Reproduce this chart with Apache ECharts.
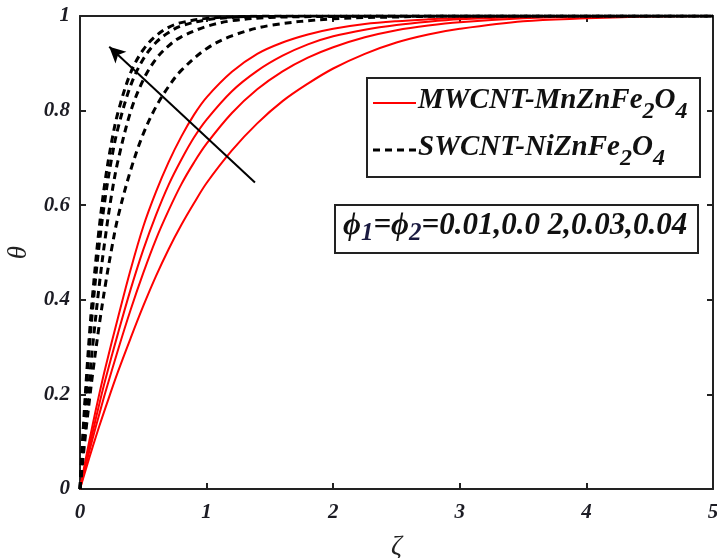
<!DOCTYPE html>
<html>
<head>
<meta charset="utf-8">
<script src="https://cdn.jsdelivr.net/npm/echarts@6/dist/echarts.min.js"></script>
<style>html,body{margin:0;padding:0;background:#fff;}#c{width:717px;height:558px;}</style>
</head>
<body>
<div id="c"></div>
<script>
// ---- data ----
const zetaRed = [0,0.05,0.1,0.15,0.2,0.3,0.4,0.5,0.6,0.7,0.8,0.9,1.0,1.2,1.4,1.6,1.8,2.0,2.25,2.5,2.75,3.0,3.5,4.0,4.5,5.0];
const red1 = [0,0.070,0.136,0.198,0.256,0.362,0.464,0.555,0.628,0.691,0.745,0.791,0.828,0.882,0.920,0.944,0.961,0.973,0.983,0.989,0.993,0.996,0.999,1,1,1];
const red2 = [0,0.062,0.120,0.177,0.231,0.329,0.422,0.506,0.579,0.643,0.696,0.743,0.781,0.841,0.884,0.916,0.940,0.957,0.971,0.981,0.988,0.993,0.998,1,1,1];
const red3 = [0,0.055,0.107,0.156,0.204,0.294,0.379,0.457,0.528,0.589,0.644,0.690,0.730,0.795,0.845,0.883,0.912,0.934,0.955,0.970,0.980,0.987,0.995,0.999,1,1];
const red4 = [0,0.045,0.089,0.131,0.171,0.248,0.319,0.387,0.450,0.507,0.558,0.604,0.647,0.716,0.773,0.820,0.857,0.889,0.920,0.944,0.961,0.973,0.989,0.995,0.999,1];

const zetaDash = [0,0.025,0.05,0.075,0.1,0.15,0.2,0.25,0.3,0.4,0.5,0.6,0.7,0.8,1.0,1.2,1.5,2.0,2.5,3.0,4.0,5.0];
const dash1 = [0,0.124,0.233,0.328,0.411,0.548,0.654,0.734,0.796,0.880,0.929,0.958,0.976,0.986,0.995,0.998,1,1,1,1,1,1];
const dash2 = [0,0.113,0.213,0.302,0.381,0.513,0.617,0.699,0.763,0.853,0.909,0.944,0.965,0.979,0.992,0.997,0.999,1,1,1,1,1];
const dash3 = [0,0.084,0.161,0.231,0.302,0.426,0.532,0.623,0.694,0.798,0.865,0.909,0.937,0.956,0.978,0.990,0.997,0.999,1,1,1,1];
const dash4 = [0,0.068,0.131,0.189,0.244,0.343,0.431,0.508,0.575,0.674,0.751,0.808,0.851,0.885,0.931,0.958,0.980,0.994,0.998,1,1,1];

const arrowTail = [1.382, 0.648];
const arrowHead = [0.231, 0.935];

const xTicks = [0,1,2,3,4,5];
const yTicks = [0,0.2,0.4,0.6,0.8,1];

const legendLabels = ['MWCNT-MnZnFe{s|2}O{s|4}', 'SWCNT-NiZnFe{s|2}O{s|4}'];
const paramLabel = '{p|ϕ}{s|1}{p|=ϕ}{s|2}{p|=0.01,0.0 2,0.03,0.04}';

// ---- build ----
const zip = (xs, ys) => xs.map((x, i) => [x, ys[i]]);
const FONT = "'Liberation Serif', 'DejaVu Serif', serif";
const labelStyle = {fontFamily: FONT, fontStyle: 'italic', fontWeight: 'bold', fontSize: 21, color: '#1c1c24'};

const chart = echarts.init(document.getElementById('c'), null, {renderer: 'canvas'});

function lineSeries(name, xs, ys, dashed) {
  return {
    type: 'line', name: name, data: zip(xs, ys), showSymbol: false, symbol: 'none',
    smooth: 0.35, clip: true,
    lineStyle: dashed ? {color: '#000', width: 3, type: [7, 5]} : {color: '#ff0000', width: 2},
    z: dashed ? 3 : 2
  };
}

const series = [
  lineSeries('r1', zetaRed, red1, false),
  lineSeries('r2', zetaRed, red2, false),
  lineSeries('r3', zetaRed, red3, false),
  lineSeries('r4', zetaRed, red4, false),
  lineSeries('d1', zetaDash, dash1, true),
  lineSeries('d2', zetaDash, dash2, true),
  lineSeries('d3', zetaDash, dash3, true),
  lineSeries('d4', zetaDash, dash4, true)
];
series[0].markLine = {
  silent: true, animation: false,
  symbol: ['none', 'arrow'], symbolSize: [12, 16],
  lineStyle: {color: '#000', width: 2, type: 'solid'},
  label: {show: false},
  data: [[{coord: arrowTail}, {coord: arrowHead}]]
};

const axisLineStyle = {color: '#222', width: 2};
const option = {
  animation: false,
  backgroundColor: '#fff',
  grid: {left: 80, right: 4, top: 16, bottom: 69, containLabel: false, outerBoundsMode: 'none'},
  xAxis: [{
    type: 'value', min: xTicks[0], max: xTicks[xTicks.length - 1], interval: 1,
    position: 'bottom',
    name: 'ζ', nameLocation: 'middle', nameGap: 44,
    nameTextStyle: {fontFamily: FONT, fontStyle: 'italic', fontSize: 27, color: '#222'},
    axisLine: {show: true, onZero: false, lineStyle: axisLineStyle},
    axisTick: {show: true, inside: true, length: 6, lineStyle: axisLineStyle},
    axisLabel: Object.assign({margin: 13}, labelStyle),
    splitLine: {show: false}
  }, {
    type: 'value', min: xTicks[0], max: xTicks[xTicks.length - 1], interval: 1,
    position: 'top',
    axisLine: {show: true, onZero: false, lineStyle: axisLineStyle},
    axisTick: {show: true, inside: true, length: 6, lineStyle: axisLineStyle},
    axisLabel: {show: false}, splitLine: {show: false}
  }],
  yAxis: [{
    type: 'value', min: yTicks[0], max: yTicks[yTicks.length - 1], interval: 0.2,
    position: 'left',
    name: 'θ', nameLocation: 'middle', nameGap: 43,
    nameTextStyle: {fontFamily: FONT, fontStyle: 'italic', fontSize: 27, color: '#222'},
    axisLine: {show: true, onZero: false, lineStyle: axisLineStyle},
    axisTick: {show: true, inside: true, length: 6, lineStyle: axisLineStyle},
    axisLabel: Object.assign({margin: 10}, labelStyle),
    splitLine: {show: false}
  }, {
    type: 'value', min: yTicks[0], max: yTicks[yTicks.length - 1], interval: 0.2,
    position: 'right',
    axisLine: {show: true, onZero: false, lineStyle: axisLineStyle},
    axisTick: {show: true, inside: true, length: 6, lineStyle: axisLineStyle},
    axisLabel: {show: false}, splitLine: {show: false}
  }],
  series: series,
  graphic: [
    {type: 'rect', z: 50, shape: {x: 367, y: 78, width: 333, height: 99},
     style: {fill: '#fff', stroke: '#222', lineWidth: 2}},
    {type: 'line', z: 51, shape: {x1: 373, y1: 103, x2: 416, y2: 103},
     style: {stroke: '#ff0000', lineWidth: 2}},
    {type: 'line', z: 51, shape: {x1: 373, y1: 150, x2: 416, y2: 150},
     style: {stroke: '#000', lineWidth: 3, lineDash: [7, 5]}},
    {type: 'text', z: 52, left: 418, top: 86,
     style: {text: legendLabels[0], fontFamily: FONT, fontStyle: 'italic', fontWeight: 'bold', fontSize: 29, fill: '#111',
       rich: {s: {fontFamily: FONT, fontStyle: 'italic', fontWeight: 'bold', fontSize: 24, fill: '#111', padding: [22, 0, 0, 0]}}}},
    {type: 'text', z: 52, left: 418, top: 133,
     style: {text: legendLabels[1], fontFamily: FONT, fontStyle: 'italic', fontWeight: 'bold', fontSize: 29, fill: '#111',
       rich: {s: {fontFamily: FONT, fontStyle: 'italic', fontWeight: 'bold', fontSize: 24, fill: '#111', padding: [22, 0, 0, 0]}}}},
    {type: 'rect', z: 50, shape: {x: 335, y: 205, width: 363, height: 48},
     style: {fill: '#fff', stroke: '#222', lineWidth: 2}},
    {type: 'text', z: 52, left: 343, top: 210,
     style: {text: paramLabel, fontFamily: FONT, fontStyle: 'italic', fontWeight: 'bold', fontSize: 31, fill: '#111',
       rich: {
         p: {fontFamily: FONT, fontStyle: 'italic', fontWeight: 'bold', fontSize: 31, fill: '#111'},
         s: {fontFamily: FONT, fontStyle: 'italic', fontWeight: 'bold', fontSize: 25, fill: '#1a1a40', padding: [16, 0, 0, 0]}
       }}}
  ]
};
chart.setOption(option);
</script>
</body>
</html>
